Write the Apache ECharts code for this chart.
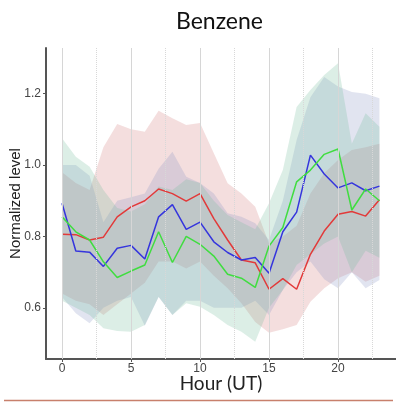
<!DOCTYPE html>
<html>
<head>
<meta charset="utf-8">
<script src="https://cdn.jsdelivr.net/npm/echarts@6/dist/echarts.min.js"></script>
<style>
  html, body { margin: 0; padding: 0; background: #fff; }
  #chart { width: 396px; height: 402px; }
</style>
</head>
<body>
<div id="chart"></div>
<script>
// Hour of day (UT)
const hours = [0, 1, 2, 3, 4, 5, 6, 7, 8, 9, 10, 11, 12, 13, 14, 15, 16, 17, 18, 19, 20, 21, 22, 23];

// Red series: mean and spread band
const redMean = [0.806, 0.805, 0.790, 0.798, 0.855, 0.883, 0.900, 0.933, 0.920, 0.899, 0.920, 0.850, 0.790, 0.734, 0.726, 0.652, 0.682, 0.652, 0.750, 0.815, 0.862, 0.870, 0.857, 0.903];
const redHigh = [0.98, 0.95, 0.93, 1.05, 1.115, 1.10, 1.093, 1.152, 1.131, 1.112, 1.118, 1.033, 0.949, 0.92, 0.883, 0.78, 0.80, 0.83, 0.92, 0.977, 1.014, 1.042, 1.05, 1.06];
const redLow  = [0.64, 0.62, 0.61, 0.58, 0.61, 0.64, 0.67, 0.73, 0.73, 0.71, 0.73, 0.69, 0.655, 0.613, 0.56, 0.53, 0.54, 0.552, 0.617, 0.655, 0.683, 0.70, 0.673, 0.69];

// Blue series: mean and spread band
const blueMean = [0.893, 0.759, 0.756, 0.716, 0.767, 0.775, 0.737, 0.855, 0.889, 0.820, 0.840, 0.785, 0.755, 0.734, 0.741, 0.697, 0.813, 0.868, 1.028, 0.975, 0.936, 0.950, 0.928, 0.941];
const blueHigh = [1.0, 1.0, 0.97, 0.84, 0.90, 0.91, 0.92, 0.99, 1.037, 0.967, 0.95, 0.92, 0.865, 0.855, 0.837, 0.79, 0.90, 1.07, 1.19, 1.247, 1.22, 1.205, 1.20, 1.187];
const blueLow  = [0.63, 0.585, 0.557, 0.60, 0.62, 0.63, 0.55, 0.63, 0.58, 0.62, 0.62, 0.60, 0.60, 0.60, 0.62, 0.58, 0.65, 0.70, 0.73, 0.68, 0.655, 0.70, 0.655, 0.678];

// Green series: mean and spread band
const greenMean = [0.855, 0.813, 0.790, 0.729, 0.685, 0.703, 0.720, 0.813, 0.727, 0.800, 0.778, 0.745, 0.694, 0.683, 0.657, 0.773, 0.825, 0.953, 0.986, 1.030, 1.045, 0.874, 0.933, 0.900];
const greenHigh = [1.075, 1.023, 0.995, 0.93, 0.88, 0.87, 0.89, 0.94, 0.93, 0.96, 0.95, 0.90, 0.86, 0.84, 0.82, 0.893, 0.986, 1.163, 1.21, 1.252, 1.285, 1.06, 1.145, 1.107];
const greenLow  = [0.62, 0.60, 0.58, 0.543, 0.535, 0.533, 0.552, 0.631, 0.58, 0.613, 0.603, 0.58, 0.552, 0.533, 0.505, 0.60, 0.65, 0.72, 0.75, 0.78, 0.80, 0.70, 0.76, 0.74];

// Axis ticks and guide lines
const xTicks = [0, 5, 10, 15, 20];
const xMinorGuides = [2.5, 7.5, 12.5, 17.5, 22.5];
const yTicks = [0.6, 0.8, 1.0, 1.2];

const pairs = arr => hours.map((h, i) => [h, arr[i]]);

// A band is one polygon: upper bound left-to-right, then lower bound back
function band(lo, hi, fill) {
  return {
    type: 'custom', silent: true, z: 1,
    data: hours.map((h, i) => [h, lo[i], hi[i]]),
    encode: { x: 0, y: [1, 2] },
    renderItem: function (params, api) {
      if (params.dataIndexInside !== 0) return null;
      const n = params.dataInsideLength;
      const top = [], bottom = [];
      for (let i = 0; i < n; i++) {
        const x = api.value(0, i);
        top.push(api.coord([x, api.value(2, i)]));
        bottom.push(api.coord([x, api.value(1, i)]));
      }
      return {
        type: 'polygon',
        shape: { points: top.concat(bottom.reverse()) },
        style: { fill: fill, opacity: 0.25 }
      };
    }
  };
}

function meanLine(data, color) {
  return { type: 'line', data: pairs(data), symbol: 'none', silent: true,
    lineStyle: { color: color, width: 1.5 }, z: 3 };
}

const guides = {
  type: 'line', data: pairs(redMean), symbol: 'none', silent: true,
  lineStyle: { opacity: 0 }, z: 0,
  markLine: {
    silent: true, symbol: ['none', 'none'], label: { show: false },
    animation: false,
    data: xTicks.map(h => ({ xAxis: h, lineStyle: { color: '#d6d6d6', width: 1, type: 'solid' } }))
      .concat(xMinorGuides.map(h => ({ xAxis: h, lineStyle: { color: '#d8d8d8', width: 1, type: 'dotted' } })))
  }
};

const chart = echarts.init(document.getElementById('chart'), null, { renderer: 'canvas' });
chart.setOption({
  animation: false,
  backgroundColor: '#ffffff',
  title: {
    text: 'Benzene', left: 171, top: 5,
    textStyle: { fontSize: 23, fontWeight: 'normal', fontFamily: 'Lato', color: '#111' }
  },
  grid: { left: 46, right: 0, top: 48, bottom: 43, containLabel: false, outerBoundsMode: 'none' },
  xAxis: {
    type: 'value', min: -1.16, max: 24.2,
    name: 'Hour (UT)', nameLocation: 'middle', nameGap: 15, nameMoveOverlap: false,
    nameTextStyle: { fontSize: 19, color: '#222', fontFamily: 'Lato' },
    axisLine: { onZero: false, lineStyle: { color: '#555', width: 2 } },
    axisTick: { customValues: xTicks, length: 3, lineStyle: { color: '#555' } },
    axisLabel: { customValues: xTicks, color: '#444', fontSize: 12, margin: 4, fontFamily: 'Liberation Sans' },
    splitLine: { show: false }
  },
  yAxis: {
    type: 'value', min: 0.4566, max: 1.328,
    name: 'Normalized level', nameLocation: 'middle', nameGap: 23, nameMoveOverlap: false,
    nameTextStyle: { fontSize: 15, color: '#222', fontFamily: 'Liberation Sans' },
    axisLine: { show: true, onZero: false, lineStyle: { color: '#555', width: 2 } },
    axisTick: { show: true, customValues: yTicks, length: 3, lineStyle: { color: '#555' } },
    axisLabel: { customValues: yTicks, color: '#444', fontSize: 12, margin: 5, fontFamily: 'Liberation Sans',
      formatter: v => v.toFixed(1) },
    splitLine: { show: false }
  },
  graphic: [{
    type: 'line', silent: true,
    shape: { x1: 4, y1: 400.5, x2: 393, y2: 400.5 },
    style: { stroke: '#c8806c', lineWidth: 1.5 }
  }],
  series: [
    guides,
    band(redLow, redHigh, 'rgb(211,123,123)'),
    band(blueLow, blueHigh, 'rgb(135,147,195)'),
    band(greenLow, greenHigh, 'rgb(115,187,155)'),
    meanLine(redMean, '#e23a3a'),
    meanLine(blueMean, '#3535dd'),
    meanLine(greenMean, '#40dd40')
  ]
});
</script>
</body>
</html>
